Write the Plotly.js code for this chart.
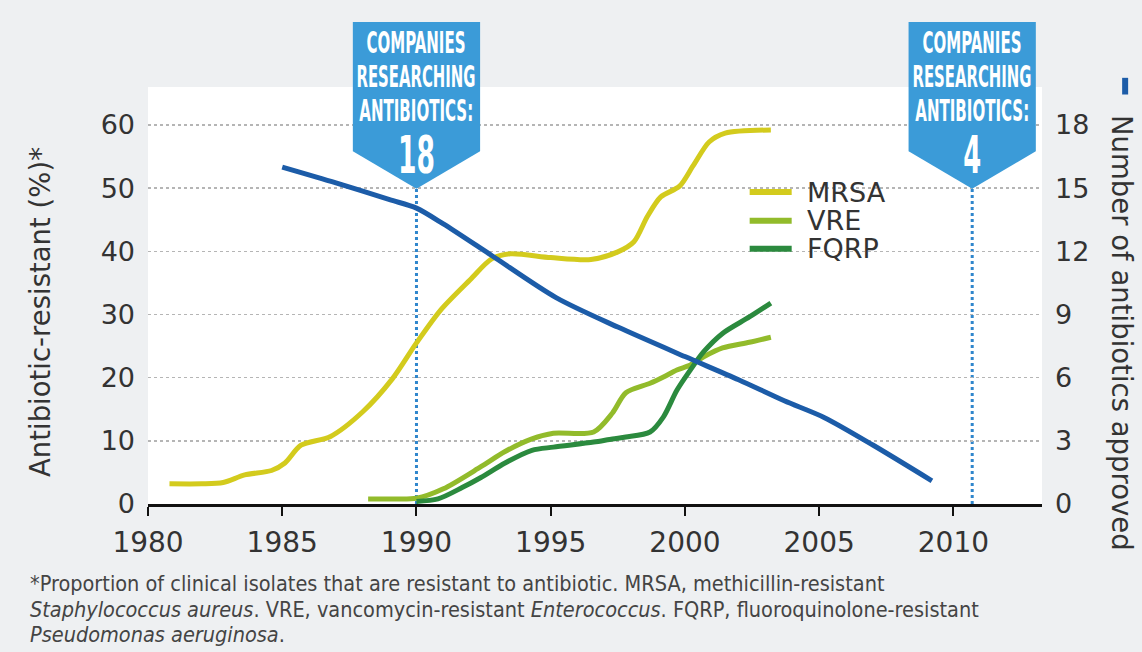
<!DOCTYPE html>
<html>
<head>
<meta charset="utf-8">
<script src="https://cdn.plot.ly/plotly-3.0.1.min.js"></script>
<style>
  html, body { margin: 0; padding: 0; background: #eef0f2; }
  #chart { width: 1142px; height: 652px; }
</style>
</head>
<body>
<div id="chart"></div>
<script>
// ---------- data ----------
const seriesNames = ['MRSA', 'VRE', 'FQRP'];
const seriesColors = ['#d3cb1d', '#92bb2b', '#2b8a3e'];

const mrsaYears = [1980.8, 1982.0, 1982.8, 1983.6, 1984.6, 1985.1, 1985.7, 1986.8, 1988.0, 1989.1, 1990.0, 1990.9, 1992.0, 1992.8, 1993.5, 1995.0, 1996.5, 1997.5, 1998.1, 1998.6, 1999.1, 1999.8, 2000.3, 2000.9, 2001.5, 2003.2];
const mrsaValues = [3.2, 3.2, 3.4, 4.6, 5.3, 6.5, 9.3, 10.7, 14.6, 19.8, 25.5, 30.7, 35.5, 38.8, 39.6, 39.0, 38.7, 39.9, 41.5, 45.5, 48.6, 50.3, 53.5, 57.3, 58.7, 59.2];

const vreYears = [1988.2, 1989.0, 1990.0, 1991.0, 1992.4, 1993.3, 1994.3, 1995.1, 1996.6, 1997.3, 1997.8, 1998.7, 1999.2, 1999.7, 2000.2, 2000.7, 2001.4, 2002.4, 2003.2];
const vreValues = [0.8, 0.8, 0.9, 2.4, 5.9, 8.3, 10.3, 11.2, 11.4, 14.4, 17.6, 19.1, 20.1, 21.2, 22.0, 23.3, 24.7, 25.6, 26.4];

const fqrpYears = [1990.0, 1990.8, 1991.7, 1992.4, 1993.3, 1994.3, 1995.1, 1996.6, 1997.3, 1997.8, 1998.7, 1999.2, 1999.7, 2000.2, 2000.7, 2001.4, 2002.4, 2003.2];
const fqrpValues = [0.4, 0.8, 2.6, 4.2, 6.5, 8.5, 9.0, 9.8, 10.3, 10.6, 11.4, 13.8, 18.0, 21.2, 24.1, 27.0, 29.6, 31.8];

const approvedYears = [1985.0, 1987.0, 1989.0, 1990.0, 1991.0, 1992.8, 1995.2, 1997.5, 2000.0, 2002.0, 2003.7, 2005.2, 2007.0, 2009.2];
const approvedValues = [16.0, 15.25, 14.45, 14.05, 13.3, 11.8, 9.8, 8.4, 7.0, 5.9, 4.9, 4.1, 2.8, 1.1];

const xTickVals = [1980, 1985, 1990, 1995, 2000, 2005, 2010];
const yTickVals = [0, 10, 20, 30, 40, 50, 60];
const y2TickVals = [0, 3, 6, 9, 12, 15, 18];

const calloutYears = [1990, 2010.7];
const calloutCounts = ['18', '4'];
const calloutLines = ['COMPANIES', 'RESEARCHING', 'ANTIBIOTICS:'];

const leftTitle = 'Antibiotic-resistant (%)*';
const rightTitle = 'Number of antibiotics approved';
const footnoteLines = [
  '*Proportion of clinical isolates that are resistant to antibiotic. MRSA, methicillin-resistant',
  '<i>Staphylococcus aureus</i>. VRE, vancomycin-resistant <i>Enterococcus</i>. FQRP, fluoroquinolone-resistant',
  '<i>Pseudomonas aeruginosa</i>.'
];

// ---------- styles ----------
const BLUE = '#1c5ca8';
const CALLOUT = '#3b9bd8';
const TXT = '#333333';
const FONT = 'DejaVu Sans, Liberation Sans, sans-serif';
const CONDENSED = 'Liberation Sans Narrow, DejaVu Sans Condensed, Liberation Sans, sans-serif';
const textWidths = { 'COMPANIES': 99, 'RESEARCHING': 119, 'ANTIBIOTICS:': 114, '18': 37, '4': 18 };

const pct = [
  { x: mrsaYears, y: mrsaValues },
  { x: vreYears, y: vreValues },
  { x: fqrpYears, y: fqrpValues }
];

const traces = pct.map((s, i) => ({
  type: 'scatter', mode: 'lines', name: seriesNames[i],
  x: s.x, y: s.y, xaxis: 'x', yaxis: 'y',
  line: { color: seriesColors[i], width: 5, shape: 'spline', smoothing: 0.8 },
  showlegend: false, hoverinfo: 'skip'
}));
traces.push({
  type: 'scatter', mode: 'lines', name: 'Approved',
  x: approvedYears, y: approvedValues, xaxis: 'x', yaxis: 'y2',
  line: { color: BLUE, width: 5, shape: 'spline', smoothing: 0.8 },
  showlegend: false, hoverinfo: 'skip'
});

// ---------- decorations ----------
const HALF = 2.37;       // callout half width in years
const TOP = 1.156, SHOULDER = 0.846, TIP = 0.756;

const shapes = [];
const annotations = [];

calloutYears.forEach((yr, k) => {
  shapes.push({
    type: 'line', xref: 'x', yref: 'paper', x0: yr, x1: yr, y0: 0, y1: TIP,
    line: { color: '#2f86cc', width: 3, dash: 'dot' }, layer: 'below'
  });
  shapes.push({
    type: 'path', xref: 'x', yref: 'paper',
    path: `M ${yr - HALF} ${TOP} L ${yr + HALF} ${TOP} L ${yr + HALF} ${SHOULDER} L ${yr} ${TIP} L ${yr - HALF} ${SHOULDER} Z`,
    fillcolor: CALLOUT, line: { width: 0 }, layer: 'above'
  });
  const ys = [1.106, 1.025, 0.944];
  calloutLines.forEach((t, j) => {
    annotations.push({
      xref: 'x', yref: 'paper', x: yr, y: ys[j], text: t, showarrow: false,
      xanchor: 'center', yanchor: 'middle',
      font: { family: CONDENSED, size: 30, color: '#ffffff', weight: 'bold' }
    });
  });
  annotations.push({
    xref: 'x', yref: 'paper', x: yr, y: 0.838, text: calloutCounts[k], showarrow: false,
    xanchor: 'center', yanchor: 'middle',
    font: { family: CONDENSED, size: 52, color: '#ffffff', weight: 'bold' }
  });
});

// legend (custom)
const legY = [0.748, 0.679, 0.612];
seriesNames.forEach((n, i) => {
  shapes.push({
    type: 'line', xref: 'paper', yref: 'paper', x0: 0.673, x1: 0.720, y0: legY[i], y1: legY[i],
    line: { color: seriesColors[i], width: 6 }
  });
  annotations.push({
    xref: 'paper', yref: 'paper', x: 0.735, y: legY[i], text: n, showarrow: false,
    xanchor: 'left', yanchor: 'middle', font: { family: FONT, size: 27, color: TXT }
  });
});

// blue key next to right axis title
shapes.push({
  type: 'line', xref: 'paper', yref: 'paper', x0: 1.093, x1: 1.093, y0: 1.022, y1: 0.982,
  line: { color: BLUE, width: 6 }
});

annotations.push({
  xref: 'paper', yref: 'paper', x: -0.121, y: 0.46, text: leftTitle, showarrow: false,
  textangle: -90, xanchor: 'center', yanchor: 'middle',
  font: { family: FONT, size: 27.5, color: TXT }
});
annotations.push({
  xref: 'paper', yref: 'paper', x: 1.0895, y: 0.41, text: rightTitle, showarrow: false,
  textangle: 90, xanchor: 'center', yanchor: 'middle',
  font: { family: FONT, size: 27.5, color: TXT }
});
const footY = [-0.19, -0.252, -0.312];
footnoteLines.forEach((t, i) => {
  annotations.push({
    xref: 'paper', yref: 'paper', x: -0.134, y: footY[i], text: t, showarrow: false,
    xanchor: 'left', yanchor: 'middle', align: 'left',
    font: { family: 'DejaVu Sans Condensed, Liberation Sans Narrow, Liberation Sans, sans-serif', size: 21.5, color: '#444444' }
  });
});

const layout = {
  width: 1142, height: 652, autosize: false,
  margin: { l: 148, r: 100, t: 87, b: 148, pad: 0 },
  paper_bgcolor: '#eef0f2', plot_bgcolor: '#ffffff',
  showlegend: false,
  xaxis: {
    range: [1980, 2013.3], tickvals: xTickVals, ticktext: xTickVals.map(String),
    showgrid: false, zeroline: false,
    showline: true, linecolor: '#111111', linewidth: 3,
    ticks: 'outside', ticklen: 9, tickwidth: 2, tickcolor: '#111111',
    tickfont: { family: FONT, size: 28, color: TXT }, ticklabelstandoff: 2,
    fixedrange: true
  },
  yaxis: {
    range: [0, 66], tickvals: yTickVals, ticktext: yTickVals.map(String),
    showgrid: true, gridcolor: '#b5b5b5', gridwidth: 1.5, griddash: 'dot',
    zeroline: false, showline: false, ticks: '',
    tickfont: { family: FONT, size: 27, color: TXT }, ticklabelstandoff: 12,
    fixedrange: true
  },
  yaxis2: {
    overlaying: 'y', side: 'right', range: [0, 19.8],
    tickvals: y2TickVals, ticktext: y2TickVals.map(String),
    showgrid: false, zeroline: false, showline: false, ticks: '',
    tickfont: { family: FONT, size: 27, color: TXT }, ticklabelstandoff: 12,
    fixedrange: true
  },
  shapes: shapes,
  annotations: annotations
};

Plotly.newPlot('chart', traces, layout, { staticPlot: true, displayModeBar: false }).then(gd => {
  gd.querySelectorAll('.annotation-text').forEach(t => {
    const w = textWidths[t.textContent];
    const style = (t.getAttribute('style') || '');
    if (w && /255, 255, 255|#fff/i.test(style)) {
      const bb = t.getBBox();
      if (bb.width > 0) {
        t.style.transformBox = 'fill-box';
        t.style.transformOrigin = 'center';
        t.style.transform = 'scaleX(' + (w / bb.width).toFixed(3) + ')';
      }
    }
  });
});
</script>
</body>
</html>
